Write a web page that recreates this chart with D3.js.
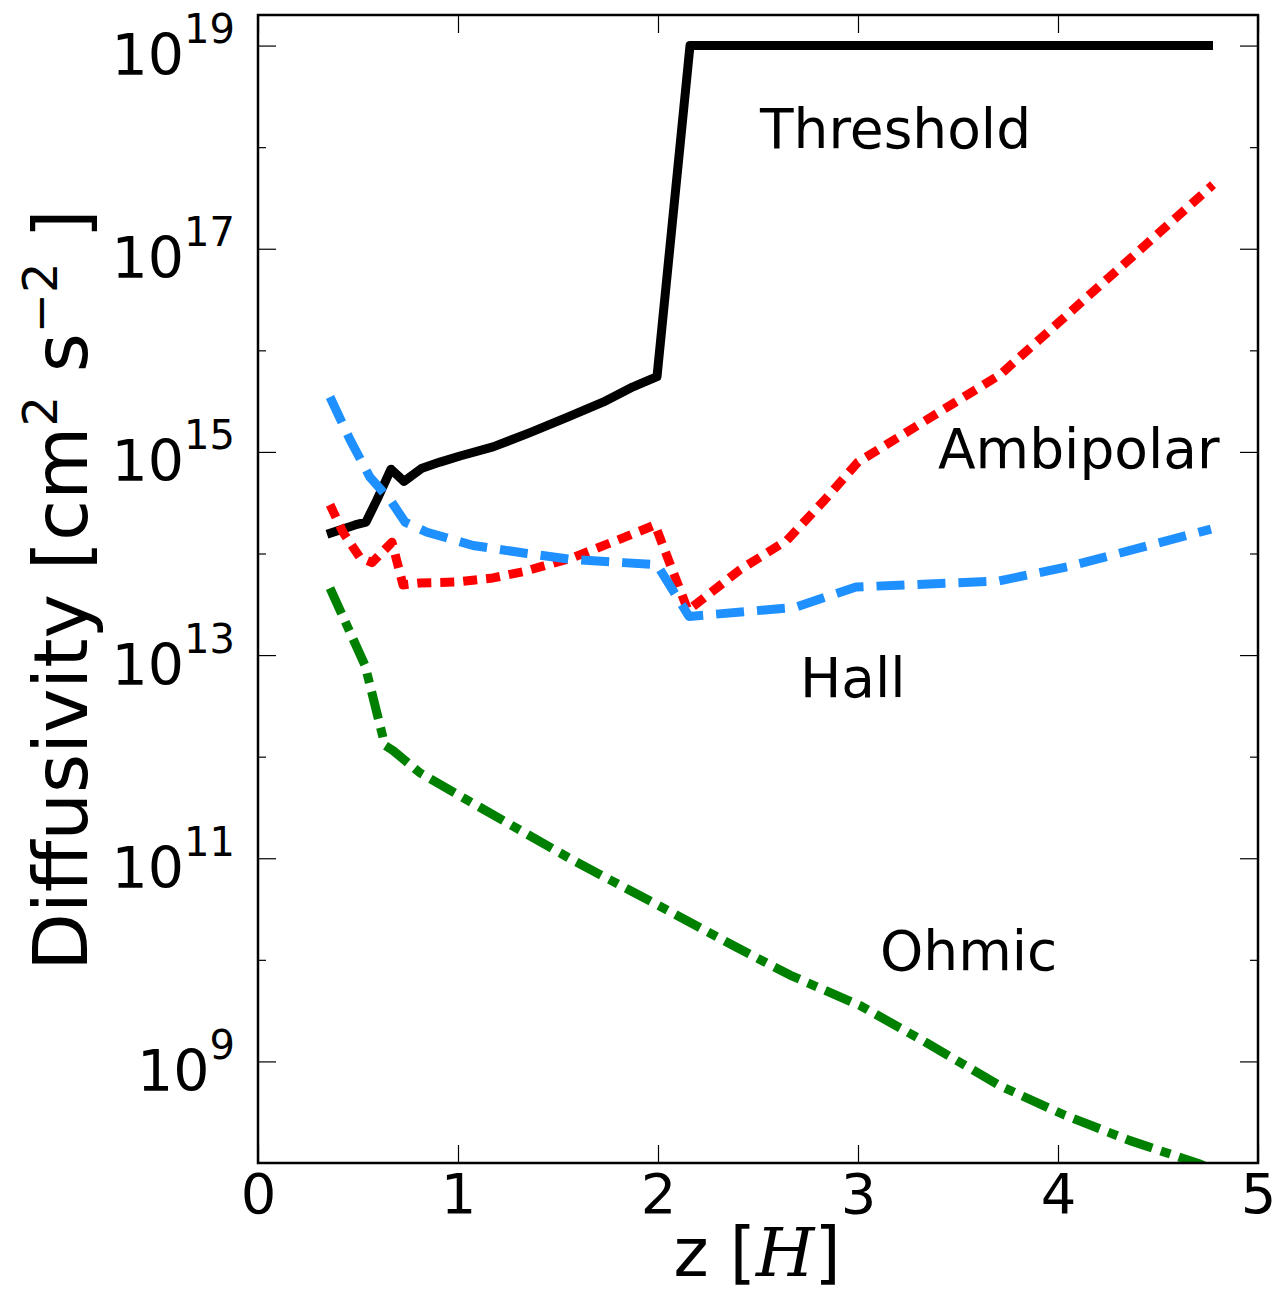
<!DOCTYPE html>
<html>
<head>
<meta charset="utf-8">
<script src="https://cdn.jsdelivr.net/npm/d3@7"></script>
<style>
  body { margin: 0; background: #fff; }
  svg text { font-family: "DejaVu Sans", sans-serif; fill: #000; }
</style>
</head>
<body>
<div id="chart"></div>
<script>
// z positions (in units of H) and diffusivities (cm^2 s^-1)
const thresholdZ = [0.345, 0.485, 0.54, 0.595, 0.665, 0.73, 0.82, 0.91, 1.01, 1.175, 1.36, 1.545, 1.725, 1.875, 1.995, 2.16, 4.775];
const thresholdEta = [1.55e14, 1.91e14, 2.04e14, 3.39e14, 6.76e14, 5.13e14, 6.92e14, 7.94e14, 9.12e14, 1.12e15, 1.55e15, 2.19e15, 3.09e15, 4.37e15, 5.5e15, 1e19, 1e19];

const ambiZ = [0.36, 0.425, 0.51, 0.57, 0.67, 0.725, 0.81, 0.995, 1.175, 1.325, 1.575, 1.795, 1.985, 2.15, 2.41, 2.645, 2.835, 3.0, 3.71, 4.775];
const ambiEta = [3.02e14, 1.62e14, 9.12e13, 8.13e13, 1.29e14, 4.9e13, 5.13e13, 5.25e13, 5.75e13, 6.61e13, 9.12e13, 1.35e14, 1.91e14, 2.75e13, 6.92e13, 1.35e14, 3.39e14, 7.94e14, 5.75e15, 4.27e17];

const hallZ = [0.36, 0.46, 0.56, 0.66, 0.735, 0.845, 1.075, 1.345, 1.575, 1.825, 1.995, 2.155, 2.685, 2.99, 3.705, 4.05, 4.765];
const hallEta = [3.47e15, 1.32e15, 5.62e14, 3.39e14, 2.04e14, 1.62e14, 1.2e14, 1.0e14, 8.71e13, 8.13e13, 7.76e13, 2.4e13, 2.95e13, 4.68e13, 5.37e13, 7.41e13, 1.74e14];

const ohmicZ = [0.36, 0.535, 0.635, 0.675, 0.81, 1.075, 1.575, 2.075, 2.395, 2.66, 3.01, 3.32, 3.71, 4.035, 4.36, 4.71, 4.775];
const ohmicEta = [4.57e13, 7.94e12, 1.29e12, 1.15e12, 6.92e11, 3.47e11, 9.55e10, 2.88e10, 1.32e10, 7.08e9, 3.55e9, 1.62e9, 5.75e8, 2.95e8, 1.66e8, 9.77e7, 8.51e7];

const xTicks = [0, 1, 2, 3, 4, 5];
const yMajorExp = [9, 11, 13, 15, 17, 19];
const yMinorExp = [10, 12, 14, 16, 18];

const series = [
  { name: "Threshold", z: thresholdZ, eta: thresholdEta, color: "#000000", dash: null, width: 9, label: [760, 148] },
  { name: "Ambipolar", z: ambiZ, eta: ambiEta, color: "#ff0000", dash: "14,9", width: 9, label: [938, 468] },
  { name: "Hall", z: hallZ, eta: hallEta, color: "#1e90ff", dash: "28,13", width: 9, label: [800, 697] },
  { name: "Ohmic", z: ohmicZ, eta: ohmicEta, color: "#008000", dash: "28,9,10,9", width: 9, label: [880, 970] }
];

const W = 1277, H = 1292;
const margin = { top: 15, left: 258, right: 19, bottom: 129 };
const width = W - margin.left - margin.right;
const height = H - margin.top - margin.bottom;

const svg = d3.select("#chart").append("svg")
  .attr("width", W).attr("height", H);

const g = svg.append("g").attr("transform", `translate(${margin.left},${margin.top})`);

const x = d3.scaleLinear().domain([0, 5]).range([0, width]);
const y = d3.scaleLog().domain([1e8, 2e19]).range([height, 0]);

g.append("clipPath").attr("id", "clip")
  .append("rect").attr("width", width).attr("height", height);

// lines
const line = d3.line().x(d => x(d[0])).y(d => y(d[1]));
series.forEach(s => {
  const pts = s.z.map((z, i) => [z, s.eta[i]]);
  g.append("path")
    .datum(pts)
    .attr("clip-path", "url(#clip)")
    .attr("d", line)
    .attr("fill", "none")
    .attr("stroke", s.color)
    .attr("stroke-width", s.width)
    .attr("stroke-linejoin", "round")
    .attr("stroke-dasharray", s.dash);
});

// axes: ticks point inward on all four sides
function styleAxis(sel) {
  sel.select(".domain").remove();
  sel.selectAll(".tick line").attr("stroke", "#000").attr("stroke-width", 1.2);
}

const majors = yMajorExp.map(e => Math.pow(10, e));
const minors = yMinorExp.map(e => Math.pow(10, e));

const yLeft = g.append("g")
  .call(d3.axisLeft(y).tickValues(majors).tickSizeInner(-18).tickSizeOuter(0).tickPadding(23).tickFormat(""))
  .call(styleAxis);
yLeft.selectAll(".tick text").each(function (d) {
  const t = d3.select(this)
    .attr("dy", null).attr("y", 29)
    .attr("text-anchor", "end")
    .style("font-size", "57px");
  t.append("tspan").text("10");
  t.append("tspan").attr("dy", -32).style("font-size", "40px").text(Math.round(Math.log10(d)));
});
g.append("g")
  .call(d3.axisLeft(y).tickValues(minors).tickSizeInner(-8).tickSizeOuter(0).tickFormat(""))
  .call(styleAxis);
g.append("g").attr("transform", `translate(${width},0)`)
  .call(d3.axisRight(y).tickValues(majors).tickSizeInner(-18).tickSizeOuter(0).tickFormat(""))
  .call(styleAxis);
g.append("g").attr("transform", `translate(${width},0)`)
  .call(d3.axisRight(y).tickValues(minors).tickSizeInner(-8).tickSizeOuter(0).tickFormat(""))
  .call(styleAxis);

g.append("g").attr("transform", `translate(0,${height})`)
  .call(d3.axisBottom(x).tickValues(xTicks).tickSizeInner(-18).tickSizeOuter(0).tickPadding(10).tickFormat(d3.format("d")))
  .call(styleAxis)
  .call(a => a.selectAll(".tick text").style("font-size", "56px"));
g.append("g")
  .call(d3.axisTop(x).tickValues(xTicks).tickSizeInner(-18).tickSizeOuter(0).tickFormat(""))
  .call(styleAxis);

// frame
g.append("rect")
  .attr("width", width).attr("height", height)
  .attr("fill", "none").attr("stroke", "#000").attr("stroke-width", 2.5);

// curve labels
series.forEach(s => {
  svg.append("text")
    .attr("x", s.label[0]).attr("y", s.label[1])
    .style("font-size", "55px")
    .text(s.name);
});

// axis titles
const xl = svg.append("text")
  .attr("x", 757).attr("y", 1276)
  .attr("text-anchor", "middle")
  .style("font-size", "67px");
xl.append("tspan").text("z [");
xl.append("tspan").style("font-family", "'DejaVu Serif', serif").style("font-style", "italic").text("H");
xl.append("tspan").text("]");

const yl = svg.append("text")
  .attr("transform", "translate(87,590) rotate(-90)")
  .attr("text-anchor", "middle")
  .style("font-size", "75px");
yl.append("tspan").text("Diffusivity [cm");
yl.append("tspan").attr("dy", -30).style("font-size", "48px").text("2");
yl.append("tspan").attr("dy", 30).text(" s");
yl.append("tspan").attr("dy", -30).style("font-size", "48px").text("\u22122");
yl.append("tspan").attr("dy", 30).text(" ]");
</script>
</body>
</html>
